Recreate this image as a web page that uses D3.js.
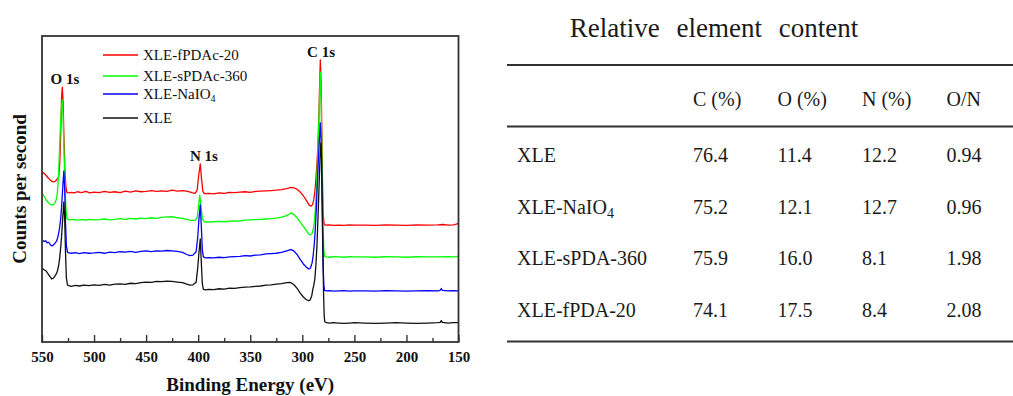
<!DOCTYPE html>
<html>
<head>
<meta charset="utf-8">
<script src="https://cdn.jsdelivr.net/npm/d3@7"></script>
<style>
  body { margin: 0; background: #fff; }
  svg { display: block; font-family: "Liberation Serif", "Times New Roman", serif; }
</style>
</head>
<body>
<div id="chart"></div>
<script>
// XPS survey spectra, [binding energy (eV), counts (a.u.)]
const fpdac20 = [
  [550,55.6],[548,55.1],[546,54.4],[544,53.6],[542,52.9],[540,52.4],[538.5,52.3],[537,52.6],[535.5,53.2],
  [534,54],[533,58],[532,68],[531.2,80],[530.5,83.3],[529.8,79],[529,68],[528,56],[527,50.5],[526,48.8],
  [524,48.7],[522,48.9],[519,48.7],[516,49.1],[512,48.8],[508,49.2],[504,48.7],[500,49.0],[495,48.8],
  [490,49.2],[485,48.9],[480,49.1],[475,48.8],[470,49.3],[465,49.0],[460,49.4],[455,49.1],[450,49.2],
  [445,49.5],[440,49.2],[435,49.4],[430,49.2],[425,49.6],[420,49.3],[415,49.5],[410,49.2],[406,48.8],
  [403,48.6],[401,49.6],[399.5,54.5],[398,58.2],[396.7,53],[395.5,49.2],[394,48.5],[390,48.6],[385,48.4],
  [380,48.7],[375,48.6],[370,48.9],[365,48.8],[360,49.0],[355,49.1],[350,48.9],[345,49.2],[340,49.3],
  [335,49.4],[330,49.5],[325,49.6],[320,49.8],[315,50.1],[311,50.5],[308,50.4],[305,49.9],[302,49.0],
  [299,47.8],[296,46.2],[293.5,44.8],[291.5,44.4],[290,45.0],[289,46.5],[288,49],[287,53],[286,58],
  [285,64],[284,75],[283.3,85],[282.7,92.2],[282,85],[281.3,70],[280.6,52],[280,42],[279.2,38.8],
  [278,38.2],[274,38.3],[270,38.1],[265,38.2],[260,38.1],[255,38.3],[250,38.2],[240,38.2],[230,38.1],
  [220,38.3],[210,38.2],[200,38.1],[190,38.3],[180,38.2],[170,38.3],[165,38.4],[160,38.2],[155,38.3],
  [152,38.5],[150,38.9]
];
const spdac360 = [
  [550,48.7],[548,47.6],[546,46.4],[544,45.6],[542,45.0],[540,44.8],[538,45.2],[536.5,46.3],[535.5,48.0],
  [534.5,52],[533.5,60],[532.5,69],[531.5,76],[530.6,79.1],[529.8,74],[529,64],[528,52],[527,43.5],
  [526,40.3],[524,39.9],[520,40.1],[516,39.8],[512,40.0],[508,39.8],[504,40.1],[500,39.9],[495,40.0],
  [490,40.2],[485,39.9],[480,40.1],[475,40.3],[470,40.1],[465,40.4],[460,40.2],[455,40.5],[450,40.3],
  [445,40.6],[440,40.4],[435,40.7],[430,40.9],[425,41.0],[420,40.6],[415,40.4],[410,40.0],[406,39.7],
  [403,39.8],[401,40.6],[399.8,44],[398.5,48.0],[397.2,44],[396,40.3],[394,39.3],[390,39.2],[385,39.3],
  [380,39.4],[375,39.3],[370,39.5],[365,39.6],[360,39.5],[355,39.8],[350,39.9],[345,40.0],[340,40.1],
  [335,40.2],[330,40.3],[325,40.5],[320,40.8],[315,41.3],[312,41.9],[310.5,42.2],[308,41.6],[305,40.6],
  [302,39.2],[299,37.8],[296,36.3],[293.5,35.2],[292,35.0],[290.5,35.5],[289.5,37],[288.5,39],[287.5,43],
  [286.5,50],[285.5,58],[284.5,68],[283.5,79],[282.7,88.2],[282,80],[281.3,64],[280.6,46],[280,36],
  [279.3,29.5],[278.5,28.0],[277,27.8],[274,27.7],[270,27.9],[265,27.8],[260,27.7],[255,27.9],[250,27.8],
  [240,27.8],[230,27.7],[220,27.9],[210,27.8],[200,27.7],[190,27.9],[180,27.8],[170,27.8],[160,27.9],
  [155,27.8],[150,28.0]
];
const naio4 = [
  [550,33.4],[548,32.8],[546.5,33.1],[545,32.4],[543.5,32.6],[542,31.8],[540.5,31.4],[539,31.7],[537.5,32.3],
  [536,33.0],[535,34.0],[534,35.5],[533,37.5],[532,40.5],[531,45],[530,51],[529,55.9],[528.2,50],
  [527.4,39],[526.6,31.5],[525.5,29.3],[522,29.0],[518,29.2],[514,28.9],[510,29.2],[505,29.0],[500,29.1],
  [495,29.3],[490,29.0],[485,29.4],[480,29.2],[475,29.5],[470,29.4],[465,29.6],[460,29.3],[455,29.6],
  [450,29.8],[445,29.5],[440,29.8],[435,29.7],[430,29.9],[425,29.8],[420,29.6],[415,29.3],[411,28.6],
  [408,28.2],[405,28.4],[402,29.5],[400.5,34],[399.3,40],[398,44.8],[397,38],[396,30],[395,27.8],
  [393,27.5],[390,27.6],[385,27.5],[380,27.7],[375,27.6],[370,27.8],[365,27.9],[360,28.0],[355,28.2],
  [350,28.1],[345,28.4],[340,28.5],[335,28.8],[330,28.9],[325,29.0],[320,29.3],[315,29.8],[312,30.1],
  [310.5,30.2],[308,29.7],[305,28.6],[302,27.0],[299,25.5],[296,24.4],[294,23.9],[292.5,24.0],[291.5,24.8],
  [290.5,26],[289.5,28.5],[288.5,32],[287.5,37],[286.5,44],[285.5,52],[284.5,60],[283.5,67],[282.7,71.6],
  [282,66],[281.3,52],[280.6,36],[280,25],[279.3,18.5],[278.6,16.9],[277,16.7],[274,16.8],[270,16.6],
  [265,16.7],[260,16.8],[255,16.6],[250,16.7],[240,16.7],[230,16.6],[220,16.8],[210,16.7],[200,16.6],
  [190,16.7],[180,16.8],[170,16.7],[167.5,16.9],[166.5,17.5],[165.5,16.9],[160,16.7],[155,16.8],[150,16.7]
];
const xle = [
  [550,24.2],[548,23.6],[546,23.2],[544,22.2],[542,21.2],[540.5,20.6],[539,20.9],[537.5,21.6],[536,22.4],
  [535,23.5],[534,25],[533,27.5],[532,31],[531,35.5],[530,41],[529,45.8],[528.2,40],[527.4,29],[526.6,21],
  [525.5,18.6],[522,18.2],[518,18.5],[514,18.3],[510,18.6],[505,18.4],[500,18.7],[495,18.5],[490,18.8],
  [485,18.6],[480,18.9],[475,19.0],[470,18.8],[465,19.2],[460,19.1],[455,19.4],[450,19.6],[445,19.5],
  [440,19.8],[435,19.7],[430,19.9],[425,19.8],[420,19.6],[415,19.4],[411,18.9],[408,18.6],[405,18.7],
  [402,19.5],[400.5,24],[399.3,29],[398,33.7],[397,26],[396,19],[395,17.2],[393,17.0],[390,17.2],
  [385,17.1],[380,17.4],[375,17.3],[370,17.6],[365,17.5],[360,17.8],[355,17.9],[350,18.0],[345,18.2],
  [340,18.3],[335,18.6],[330,18.7],[325,18.9],[320,19.1],[315,19.4],[312,19.5],[310.5,19.3],[308,18.7],
  [305,17.5],[302,16.0],[299,14.7],[296,13.8],[294,13.5],[292.5,13.7],[291,15],[290,17],[289,18.5],
  [288,20.5],[287,25],[286,31],[285,40],[284,50],[283,60],[282.2,65.0],[281.5,60],[280.8,46],[280.2,30],
  [279.6,16],[279,8.5],[278.4,6.6],[277,6.3],[274,6.2],[270,6.3],[265,6.2],[260,6.1],[255,6.2],[250,6.3],
  [240,6.2],[230,6.1],[220,6.2],[210,6.3],[200,6.2],[190,6.1],[180,6.2],[170,6.3],[167.5,6.4],[166.5,7.0],
  [165.5,6.4],[160,6.2],[155,6.3],[150,6.3]
];

const seriesNames = ["XLE-fPDAc-20", "XLE-sPDAc-360", "XLE-NaIO4", "XLE"];
const seriesData = [fpdac20, spdac360, naio4, xle];
const seriesColors = ["#ff0000", "#00ff00", "#0000ff", "#111111"];

const majorTicks = [550, 500, 450, 400, 350, 300, 250, 200, 150];
const minorTicks = [525, 475, 425, 375, 325, 275, 225, 175];

const peakNames = ["O 1s", "N 1s", "C 1s"];
const peakEnergies = [528, 394.5, 282];
const peakHeights = [83.3, 58.2, 92.2];

// table
const tableTitle = "Relative element content";
const tableHeaders = ["C (%)", "O (%)", "N (%)", "O/N"];
const sampleNames = ["XLE", "XLE-NaIO4", "XLE-sPDA-360", "XLE-fPDA-20"];
const carbonPct = [76.4, 75.2, 75.9, 74.1];
const oxygenPct = [11.4, 12.1, 16.0, 17.5];
const nitrogenPct = [12.2, 12.7, 8.1, 8.4];
const oToN = [0.94, 0.96, 1.98, 2.08];

const width = 1013, height = 396;
const plot = { left: 42, top: 36, right: 458.5, bottom: 342 };

const svg = d3.select("#chart").append("svg")
  .attr("width", width).attr("height", height);

svg.append("rect").attr("width", width).attr("height", height).attr("fill", "#fff");

const x = d3.scaleLinear().domain([550, 150]).range([plot.left, plot.right]);
const y = d3.scaleLinear().domain([0, 100]).range([plot.bottom, plot.top]);

// writes "NaIO4" style text with subscript digit
function richText(sel, str, subSize) {
  const m = str.match(/^(.*IO)(\d)$/);
  if (!m) { sel.text(str); return; }
  sel.append("tspan").text(m[1]);
  sel.append("tspan").attr("dy", "0.3em").attr("font-size", subSize).text(m[2]);
}

svg.append("clipPath").attr("id", "clip")
  .append("rect")
  .attr("x", plot.left).attr("y", plot.top)
  .attr("width", plot.right - plot.left).attr("height", plot.bottom - plot.top);

const line = d3.line().x(d => x(d[0])).y(d => y(d[1]));

svg.append("g").attr("clip-path", "url(#clip)")
  .selectAll("path")
  .data(seriesData)
  .join("path")
    .attr("d", line)
    .attr("fill", "none")
    .attr("stroke", (d, i) => seriesColors[i])
    .attr("stroke-width", 1.3)
    .attr("stroke-linejoin", "round");

// bottom axis, ticks pointing inward
const axisG = svg.append("g").attr("transform", `translate(0,${plot.bottom})`);
axisG.call(d3.axisBottom(x).tickValues(majorTicks).tickSize(-7).tickPadding(9).tickFormat(d3.format("d")));
axisG.append("g").call(d3.axisBottom(x).tickValues(minorTicks).tickSize(-4).tickFormat(""));
axisG.selectAll(".domain").remove();
axisG.selectAll("line").attr("stroke", "#333").attr("stroke-width", 1.4);
axisG.selectAll("text")
  .attr("font-family", "Liberation Serif")
  .attr("font-size", 15)
  .attr("font-weight", "bold")
  .attr("fill", "#111");

// frame
svg.append("rect")
  .attr("x", plot.left).attr("y", plot.top)
  .attr("width", plot.right - plot.left).attr("height", plot.bottom - plot.top)
  .attr("fill", "none").attr("stroke", "#333").attr("stroke-width", 1.8);

svg.append("text")
  .attr("x", (plot.left + plot.right) / 2).attr("y", 391)
  .attr("text-anchor", "middle")
  .attr("font-size", 19).attr("font-weight", "bold").attr("fill", "#111")
  .text("Binding Energy (eV)");

svg.append("text")
  .attr("transform", `translate(26,${(plot.top + plot.bottom) / 2}) rotate(-90)`)
  .attr("text-anchor", "middle")
  .attr("font-size", 19).attr("font-weight", "bold").attr("fill", "#111")
  .text("Counts per second");

// peak labels
svg.append("g").selectAll("text")
  .data(peakNames)
  .join("text")
    .attr("x", (d, i) => x(peakEnergies[i]))
    .attr("y", (d, i) => y(peakHeights[i]) - 3)
    .attr("text-anchor", "middle")
    .attr("font-size", 15).attr("font-weight", "bold").attr("fill", "#111")
    .text(d => d);

// legend
const legendRowY = [55, 76, 94, 118];
const legend = svg.append("g").selectAll("g")
  .data(seriesNames)
  .join("g")
    .attr("transform", (d, i) => `translate(103,${legendRowY[i]})`);
legend.append("line")
  .attr("x1", 0).attr("x2", 35)
  .attr("stroke", (d, i) => seriesColors[i]).attr("stroke-width", 1.5);
legend.append("text")
  .attr("x", 40).attr("dy", "0.33em")
  .attr("font-size", 15).attr("fill", "#111")
  .each(function(d) { richText(d3.select(this), d, 10); });

// table
const tbl = svg.append("g").attr("fill", "#1a1a1a");
tbl.append("text")
  .attr("x", 714).attr("y", 37)
  .attr("text-anchor", "middle")
  .attr("font-size", 27).attr("word-spacing", 10)
  .text(tableTitle);

const ruleY = [65, 126.5, 341.5];
tbl.selectAll("line.rule")
  .data(ruleY)
  .join("line")
    .attr("class", "rule")
    .attr("x1", 507).attr("x2", width)
    .attr("y1", d => d).attr("y2", d => d)
    .attr("stroke", "#333").attr("stroke-width", 2);

const col = d3.scaleBand().domain(tableHeaders).range([693, 1031]);
const row = d3.scalePoint().domain(sampleNames).range([162, 317]);

tbl.selectAll("text.head")
  .data(tableHeaders)
  .join("text")
    .attr("class", "head")
    .attr("x", d => col(d)).attr("y", 106)
    .attr("font-size", 20)
    .text(d => d);

const columns = [carbonPct, oxygenPct, nitrogenPct, oToN];
const formats = [d3.format(".1f"), d3.format(".1f"), d3.format(".1f"), d3.format(".2f")];

sampleNames.forEach((name, r) => {
  tbl.append("text")
    .attr("x", 517).attr("y", row(name))
    .attr("font-size", 20)
    .call(t => richText(t, name, 14));
  columns.forEach((vals, c) => {
    tbl.append("text")
      .attr("x", col(tableHeaders[c])).attr("y", row(name))
      .attr("font-size", 20)
      .text(formats[c](vals[r]));
  });
});
</script>
</body>
</html>
